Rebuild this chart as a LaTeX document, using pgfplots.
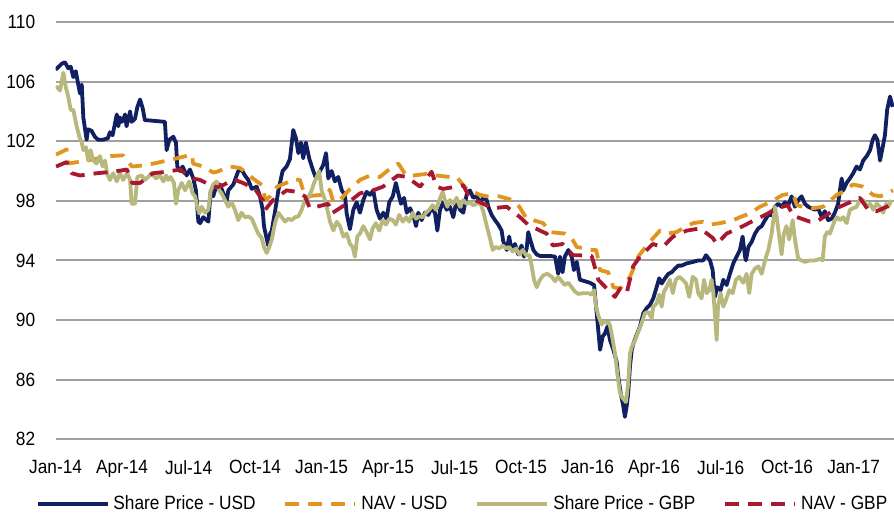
\documentclass[border=0pt]{standalone}
\usepackage{pgfplots}
\pgfplotsset{compat=1.18}
\usepackage{fontspec}
\setmainfont{Liberation Sans}[FakeStretch=0.9]
\definecolor{spusd}{RGB}{16,32,96}
\definecolor{navusd}{RGB}{226,148,32}
\definecolor{spgbp}{RGB}{184,183,124}
\definecolor{navgbp}{RGB}{168,24,48}
\definecolor{gridgray}{RGB}{160,160,160}
\newcommand{\chartfont}{\fontsize{9.6pt}{11pt}\selectfont}
\begin{document}
\begin{tikzpicture}[font=\chartfont]
\begin{axis}[
  at={(0pt,0pt)}, anchor=south west,
  scale only axis, width=419.2pt, height=208.6pt,
  xmin=0, xmax=37.82, ymin=82, ymax=110,
  ytick={82,86,...,110},
  xtick={0,3,...,36},
  xticklabels={Jan-14,Apr-14,Jul-14,Oct-14,Jan-15,Apr-15,Jul-15,Oct-15,Jan-16,Apr-16,Jul-16,Oct-16,Jan-17},
  /pgf/number format/assume math mode=true,
  axis line style={draw=none},
  major tick length=0pt,
  ymajorgrids, grid style={line width=1pt, color=gridgray},
  tick label style={font=\chartfont},
  xticklabel style={yshift=-7pt},
  yticklabel style={xshift=-6.7pt},
  legend style={at={(0.4865,-0.156)}, anchor=center, draw=none, fill=none,
    legend columns=4, font=\chartfont, inner sep=0pt,
    /tikz/every even column/.append style={column sep=12pt}},
  legend image code/.code={\draw[#1] (0pt,0pt) -- (35pt,0pt);},
  every axis plot/.append style={line width=1.9pt, line join=round},
]
\addplot[spusd] table {
0.00 106.8
0.28 107.2
0.42 107.3
0.57 106.9
0.68 107.0
0.80 106.3
0.91 106.7
1.01 105.9
1.10 105.2
1.18 105.8
1.25 103.6
1.33 102.8
1.40 102.1
1.46 102.8
1.62 102.7
1.77 102.3
1.92 102.1
2.14 102.1
2.36 102.2
2.45 102.6
2.57 102.4
2.68 103.2
2.76 103.8
2.83 103.0
2.90 103.6
2.98 103.3
3.05 103.4
3.13 103.8
3.20 103.0
3.36 104.0
3.43 103.3
3.58 103.5
3.69 104.3
3.81 104.8
3.93 104.2
4.03 103.4
4.18 103.4
4.93 103.3
5.01 101.4
5.13 102.1
5.31 102.3
5.43 101.9
5.49 100.3
5.61 100.0
5.73 100.3
5.91 99.7
6.06 100.1
6.21 99.5
6.33 98.7
6.44 96.6
6.52 96.5
6.66 96.9
6.89 96.6
7.00 98.7
7.11 98.3
7.27 99.1
7.40 99.1
7.49 98.8
7.64 98.2
7.72 98.0
7.79 98.7
8.02 99.1
8.24 100.0
8.39 100.1
8.54 99.7
8.69 99.4
8.85 98.8
9.07 98.95
9.22 98.3
9.34 97.4
9.40 96.3
9.50 95.6
9.59 95.0
9.68 95.8
9.75 96.0
9.90 97.3
10.05 98.7
10.24 100.0
10.42 100.3
10.57 100.8
10.72 102.75
10.84 102.2
10.95 101.2
11.07 101.9
11.17 100.85
11.29 101.9
11.44 100.85
11.60 100.1
11.75 99.5
11.93 100.0
12.07 100.4
12.20 101.2
12.30 99.5
12.45 100.0
12.60 99.3
12.75 99.6
12.91 98.7
13.05 98.4
13.13 97.15
13.28 96.1
13.43 97.4
13.58 97.9
13.73 97.2
13.88 98.05
14.03 98.6
14.18 98.4
14.33 98.7
14.48 97.4
14.63 96.8
14.78 97.2
14.93 96.8
15.05 97.9
15.21 98.3
15.35 99.2
15.46 98.5
15.58 97.8
15.72 98.2
15.84 97.2
15.99 97.5
16.13 97.05
16.26 96.3
16.36 97.2
16.51 96.7
16.66 97.2
16.81 97.05
16.96 97.5
17.11 97.2
17.22 96.0
17.34 97.4
17.49 97.9
17.64 97.4
17.79 97.6
17.94 96.9
18.09 98.05
18.24 97.4
18.39 97.2
18.54 98.4
18.69 98.7
18.84 98.2
18.99 98.3
19.14 97.9
19.29 98.2
19.45 98.05
19.52 97.6
19.67 97.05
19.82 96.7
19.97 96.4
20.12 96.0
20.19 95.3
20.35 94.7
20.46 95.6
20.57 94.7
20.72 95.1
20.87 94.4
21.02 95.0
21.13 94.25
21.25 94.8
21.32 95.9
21.43 95.3
21.55 94.7
21.70 94.4
21.85 94.3
22.07 94.3
22.30 94.3
22.53 94.25
22.67 93.1
22.75 94.25
22.87 93.2
22.97 94.25
23.13 94.7
23.28 94.25
23.38 93.35
23.51 93.9
23.65 92.7
23.88 92.6
24.10 92.5
24.29 92.35
24.38 90.9
24.48 89.3
24.56 88.0
24.68 88.9
24.78 89.1
24.89 89.55
25.01 88.65
25.16 88.0
25.31 87.2
25.38 86.2
25.49 85.1
25.61 84.2
25.68 83.5
25.76 84.2
25.83 85.1
25.91 86.9
25.99 88.0
26.06 88.4
26.21 89.0
26.36 89.55
26.51 90.45
26.66 90.8
26.81 91.0
26.96 91.45
27.11 92.2
27.23 92.8
27.34 92.45
27.49 92.8
27.64 93.1
27.79 93.2
27.94 93.45
28.09 93.65
28.24 93.65
28.47 93.8
28.76 93.9
28.99 94.0
29.21 94.0
29.34 94.35
29.52 94.0
29.64 93.35
29.74 91.55
29.85 92.2
30.00 92.0
30.12 92.7
30.27 92.35
30.42 93.1
30.57 93.8
30.72 94.25
30.87 94.7
30.99 95.6
31.10 94.25
31.14 94.0
31.25 94.9
31.40 95.25
31.55 95.8
31.70 96.15
31.85 96.3
32.00 96.7
32.15 97.05
32.30 97.05
32.45 97.6
32.60 97.8
32.75 97.6
32.90 97.9
33.05 97.7
33.20 98.3
33.35 97.6
33.50 98.05
33.65 98.3
33.80 97.8
33.95 97.6
34.10 97.5
34.25 97.4
34.40 97.5
34.56 96.9
34.70 97.3
34.85 96.7
35.01 96.8
35.15 97.2
35.30 97.8
35.38 98.7
35.46 99.5
35.53 98.7
35.68 99.2
35.83 99.5
35.98 99.85
36.13 100.3
36.28 100.1
36.43 100.7
36.59 101.0
36.74 101.4
36.86 102.1
36.96 102.4
37.07 102.1
37.19 100.7
37.31 101.6
37.41 102.4
37.51 104.1
37.64 105.0
37.76 104.3
};
\addlegendentry{Share Price - USD}
\addplot[navusd, dash pattern=on 7pt off 4.5pt] table {
0.02 101.1
0.30 101.3
0.50 101.45
0.56 100.5
1.42 100.7
2.45 101.0
3.04 101.05
3.45 100.3
4.12 100.4
5.02 100.7
5.61 100.9
6.15 101.1
6.20 100.5
6.65 100.3
7.11 99.9
7.28 99.95
7.87 100.3
8.32 100.2
8.54 99.95
8.90 99.5
9.36 99.0
9.45 98.05
9.68 98.3
9.99 98.95
10.57 99.3
10.72 99.45
11.02 99.4
11.17 98.7
11.29 98.3
12.00 98.4
12.26 98.8
12.38 98.7
12.53 97.9
12.83 98.05
13.28 98.8
13.73 99.4
14.18 99.7
14.63 99.6
15.21 100.3
15.46 100.5
15.81 99.7
16.13 99.7
16.71 99.8
17.16 99.7
17.79 99.6
18.09 99.6
18.39 99.05
18.54 98.8
19.14 98.4
19.45 98.3
20.01 98.3
20.62 98.05
20.92 97.6
21.25 96.8
21.55 96.7
22.00 96.5
22.30 95.9
22.97 95.8
23.28 95.5
23.51 94.9
23.88 94.8
24.10 94.7
24.38 94.7
24.45 94.25
24.56 93.35
24.93 93.2
25.16 92.2
25.46 92.1
25.76 92.6
25.91 92.9
26.14 93.7
26.28 94.25
26.51 94.7
26.96 95.5
27.26 96.0
27.56 95.8
28.01 95.9
28.47 96.3
28.76 96.5
29.21 96.6
29.52 96.4
29.97 96.5
30.27 96.6
30.57 96.7
30.87 96.9
31.32 97.15
31.77 97.6
32.22 97.9
32.81 98.4
33.26 98.5
33.44 97.7
33.71 97.6
34.16 97.5
34.62 97.6
35.24 98.4
35.52 98.6
35.97 99.1
36.42 98.95
36.87 98.4
37.19 98.3
37.77 98.7
};
\addlegendentry{NAV - USD}
\addplot[spgbp] table {
0.02 105.7
0.20 105.4
0.35 106.6
0.47 105.55
0.57 105.0
0.68 104.1
0.80 104.1
0.95 103.0
1.07 102.3
1.18 101.9
1.25 101.4
1.37 101.6
1.47 100.7
1.58 101.4
1.70 100.7
1.85 100.5
2.00 101.0
2.12 100.3
2.23 100.7
2.33 99.8
2.45 99.4
2.60 99.85
2.76 99.3
2.90 99.85
3.05 99.4
3.23 99.85
3.36 99.4
3.43 97.8
3.58 97.8
3.69 99.6
3.88 99.7
4.03 99.4
4.18 99.6
4.33 99.85
4.53 99.5
4.71 99.7
4.86 99.3
4.98 99.7
5.08 99.4
5.19 99.6
5.34 99.2
5.43 97.8
5.53 98.7
5.69 99.2
5.84 98.7
6.03 99.3
6.18 98.5
6.29 98.3
6.39 97.6
6.48 97.15
6.59 97.6
6.74 97.2
6.89 97.4
7.00 98.7
7.11 99.1
7.27 99.3
7.38 98.7
7.49 98.5
7.64 98.05
7.79 97.6
7.94 97.9
8.09 97.4
8.24 96.7
8.39 97.2
8.54 96.9
8.69 96.95
8.85 96.8
8.99 96.3
9.14 95.8
9.30 95.5
9.40 94.9
9.52 94.5
9.64 94.9
9.75 95.4
9.90 96.5
10.05 97.2
10.20 96.9
10.35 96.6
10.50 96.8
10.65 96.7
10.80 96.9
10.95 96.95
11.10 97.4
11.25 98.05
11.40 98.2
11.55 98.7
11.66 99.2
11.78 99.6
11.89 100.0
12.00 98.7
12.15 98.05
12.26 97.4
12.38 96.6
12.53 96.0
12.68 96.6
12.83 96.3
12.98 95.6
13.13 95.8
13.28 95.1
13.40 94.9
13.50 94.25
13.61 95.6
13.73 95.8
13.88 96.3
14.03 95.9
14.18 95.4
14.30 96.15
14.45 96.5
14.60 96.0
14.75 96.7
14.90 96.4
15.05 96.8
15.21 96.7
15.35 96.4
15.50 97.05
15.66 96.6
15.81 96.9
15.95 96.6
16.11 97.2
16.26 96.8
16.40 96.95
16.56 96.9
16.71 97.2
16.86 97.4
17.01 97.7
17.16 97.4
17.31 98.05
17.46 98.6
17.56 98.05
17.67 97.6
17.79 98.05
17.94 97.8
18.09 98.2
18.24 97.6
18.39 98.05
18.54 97.8
18.69 97.9
18.84 97.7
18.99 97.8
19.14 97.9
19.29 97.3
19.45 96.3
19.59 95.5
19.72 94.7
19.86 94.9
20.01 94.8
20.17 95.0
20.32 94.8
20.46 94.9
20.62 94.6
20.77 94.8
20.92 94.4
21.07 94.7
21.22 94.35
21.37 94.35
21.48 93.6
21.58 92.7
21.70 92.2
21.85 92.7
22.00 93.0
22.18 93.1
22.38 92.9
22.53 92.6
22.67 92.9
22.83 92.6
22.97 92.35
23.13 92.5
23.28 92.2
23.43 91.9
23.58 91.75
23.80 91.8
24.03 91.8
24.18 91.7
24.29 92.0
24.38 90.9
24.48 90.3
24.63 89.7
24.74 89.9
24.86 89.8
24.98 89.8
25.08 89.1
25.23 87.8
25.34 86.4
25.46 85.1
25.58 84.75
25.73 84.5
25.83 85.75
25.91 87.75
25.99 88.2
26.14 88.65
26.28 89.2
26.44 89.8
26.58 90.45
26.73 90.55
26.89 90.1
26.96 90.9
27.11 91.1
27.23 91.7
27.34 90.9
27.44 91.9
27.56 92.2
27.71 92.7
27.84 91.8
27.98 92.7
28.13 92.9
28.29 92.7
28.44 92.45
28.58 91.55
28.74 92.9
28.89 92.7
28.99 91.8
29.14 91.45
29.25 92.7
29.37 91.8
29.49 92.0
29.59 92.7
29.67 91.8
29.76 90.0
29.82 88.65
29.88 90.9
30.00 91.8
30.12 90.9
30.24 91.35
30.39 92.0
30.54 91.8
30.69 92.7
30.84 92.9
31.02 92.5
31.17 93.1
31.29 91.8
31.40 93.1
31.55 93.45
31.70 93.6
31.85 93.1
32.00 94.0
32.15 94.7
32.30 95.8
32.45 97.6
32.53 96.9
32.64 95.6
32.75 94.4
32.85 95.8
32.97 96.3
33.09 95.4
33.25 96.7
33.35 95.4
33.50 94.1
33.65 94.0
33.80 93.9
34.03 94.0
34.25 94.0
34.48 94.1
34.60 94.0
34.70 95.6
34.81 95.9
34.93 95.8
35.05 96.3
35.15 96.7
35.26 96.9
35.38 96.7
35.53 96.9
35.68 96.5
35.83 97.4
35.98 97.5
36.13 97.6
36.28 98.05
36.43 98.05
36.59 97.6
36.74 97.8
36.89 97.4
37.04 97.8
37.19 97.6
37.33 97.2
37.46 97.8
37.56 97.6
37.71 98.05
};
\addlegendentry{Share Price - GBP}
\addplot[navgbp, dash pattern=on 7pt off 4.5pt] table {
0.02 100.3
0.50 100.6
0.73 99.85
1.10 99.7
1.85 99.85
2.59 99.95
3.22 100.1
3.45 99.2
3.81 99.2
4.39 99.85
5.02 99.95
5.61 100.1
6.06 99.6
6.20 99.5
6.51 99.4
7.00 99.05
7.28 98.9
7.62 99.1
8.00 99.45
8.45 99.2
8.99 98.8
9.36 98.0
9.45 97.4
9.81 98.05
10.42 98.7
10.88 98.6
11.25 98.3
11.47 97.5
11.78 97.6
12.30 97.8
12.45 97.15
13.13 97.8
13.73 98.5
14.32 98.7
14.77 98.95
15.44 99.7
15.84 99.6
16.44 98.95
16.96 99.95
17.19 98.95
17.47 98.8
18.09 98.95
18.38 99.05
18.69 98.2
19.14 97.9
19.73 97.5
20.35 97.6
20.95 96.9
21.31 96.4
21.85 96.0
22.15 95.8
22.43 95.0
22.88 95.1
23.34 94.35
23.51 94.35
24.18 94.3
24.41 93.1
24.48 92.7
25.23 91.55
25.46 92.1
25.76 91.8
26.05 93.6
26.36 94.25
26.94 95.1
27.39 94.9
27.85 95.6
28.47 96.0
29.08 96.15
29.65 95.5
29.82 95.1
30.27 95.8
30.87 96.2
31.46 96.65
32.07 97.1
32.53 97.5
33.03 97.7
33.26 97.0
34.03 96.6
34.33 96.6
34.78 97.05
35.23 97.5
35.83 97.9
36.28 98.2
36.65 97.4
37.04 97.3
37.49 97.6
37.77 97.8
};
\addlegendentry{NAV - GBP}
\end{axis}
\pgfresetboundingbox
\useasboundingbox (-27.8pt,-37.5pt) rectangle (419.2pt,219.6pt);
\end{tikzpicture}
\end{document}
